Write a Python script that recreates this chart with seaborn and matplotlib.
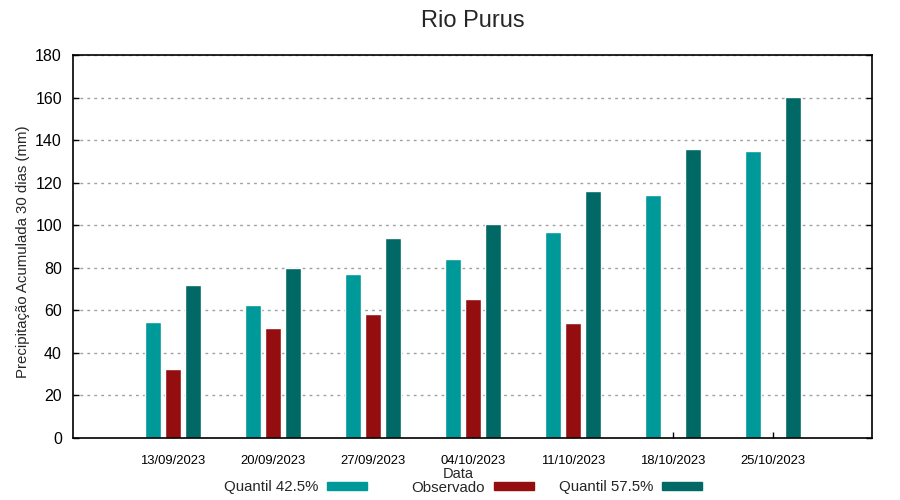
import matplotlib
matplotlib.use("Agg")
import matplotlib.pyplot as plt
import seaborn as sns
import pandas as pd
import numpy as np
from matplotlib.patches import Patch

datas = ["13/09/2023", "20/09/2023", "27/09/2023", "04/10/2023",
         "11/10/2023", "18/10/2023", "25/10/2023"]
quantil_425 = [54.4, 62.4, 77.3, 83.9, 97.0, 114.3, 134.9]
observado = [32.4, 51.6, 58.2, 65.2, 53.9, np.nan, np.nan]
quantil_575 = [71.7, 80.1, 94.2, 100.7, 116.2, 135.8, 160.1]
series_names = ["Quantil 42.5%", "Observado", "Quantil 57.5%"]
colors = ["#009999", "#940D0F", "#006966"]

sns.set_theme(style="white")
plt.rcParams['font.family'] = ['Liberation Sans', 'DejaVu Sans']

df = pd.DataFrame({
    "Data": datas * 3,
    "valor": quantil_425 + observado + quantil_575,
    "serie": [series_names[0]] * 7 + [series_names[1]] * 7 + [series_names[2]] * 7,
})

fig = plt.figure(figsize=(9, 5), dpi=100)
ax = fig.add_axes([73/900, 1-438/500, (872-73)/900, (438-55)/500])

sns.barplot(data=df, x="Data", y="valor", hue="serie", hue_order=series_names,
            palette=colors, order=datas, ax=ax, width=0.6, dodge=True,
            saturation=1, legend=False, errorbar=None, gap=0.2)

ax.set_xlim(-1.0, 6.99)
ax.set_ylim(0, 180)
ax.set_yticks(np.arange(0, 181, 20))
ax.grid(axis="y", color="#a0a0a0", linestyle=(0, (2, 3)), linewidth=1)
ax.set_axisbelow(True)
for s in ax.spines.values():
    s.set_color("black")
    s.set_linewidth(1.2)

ax.tick_params(axis="y", which="both", direction="in", length=4, width=1,
               labelsize=11.5, pad=8, right=True, left=True, colors="black")
ax.tick_params(axis="x", direction="in", length=4, width=1, labelsize=9.4, pad=12,
               bottom=True, colors="black")
ax.set_title("Rio Purus", fontsize=17, pad=20)
ax.set_xlabel("Data", fontsize=10.5)
ax.xaxis.set_label_coords(0.4825, -0.0755)
ax.set_ylabel("Precipitação Acumulada 30 dias (mm)", fontsize=10.8)
ax.yaxis.set_label_coords(-0.054, 0.487)

swatch_right = [367, 534, 702]
for name, col, xr in zip(series_names, colors, swatch_right):
    fig.legend(handles=[Patch(facecolor=col, edgecolor=col)], labels=[name],
               loc="center right", bbox_to_anchor=(xr/900, 1-487.5/500),
               frameon=False, markerfirst=False, fontsize=10.8,
               handlelength=2.67, handleheight=0.47, handletextpad=0.6,
               borderpad=0, borderaxespad=0)

fig.savefig("out.png", dpi=100)
